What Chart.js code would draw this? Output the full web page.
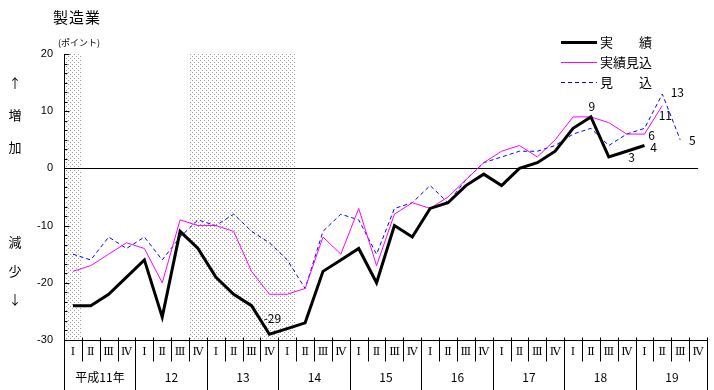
<!DOCTYPE html>
<html>
<head>
<meta charset="utf-8">
<script src="https://cdn.jsdelivr.net/npm/chart.js@4"></script>
<style>
html, body { margin: 0; padding: 0; background: #fff; }
#wrap { position: relative; width: 714px; height: 390px; }
</style>
</head>
<body>
<div id="wrap"><canvas id="chart" width="714" height="390"></canvas></div>
<script>
// 平成11年 I 〜 19年 IV
const years = ['平成11年', '12', '13', '14', '15', '16', '17', '18', '19'];
const quarters = ['Ⅰ', 'Ⅱ', 'Ⅲ', 'Ⅳ'];

const actual = [-24, -24, -22, -19, -16, -26, -11, -14, -19, -22, -24, -29,
                -28, -27, -18, -16, -14, -20, -10, -12, -7, -6, -3, -1,
                -3, 0, 1, 3, 7, 9, 2, 3, 4, null, null, null];
const estimate = [-18, -17, -15, -13, -14, -20, -9, -10, -10, -11, -18, -22,
                  -22, -21, -12, -15, -7, -17, -8, -6, -7, -5, -2, 1,
                  3, 4, 2, 5, 9, 9, 8, 6, 6, 11, null, null];
const forecast = [-15, -16, -12, -14, -12, -16, -12, -9, -10, -8, -11, -13,
                  -16, -21, -11, -8, -9, -15, -7, -6, -3, -6, -2, 1,
                  2, 3, 3, 4, 6, 7, 4, 6, 7, 13, 5, null];

const seriesNames = ['実　　績', '実績見込', '見　　込'];
const yMin = -30, yMax = 20;

// shaded quarters (first and last category index)
const shaded = [[0, 0], [7, 12]];

// value labels: dataset, index, text
const valueLabels = [
    { ds: 0, i: 11, text: '-29', dx: 3, dy: -16 },
    { ds: 0, i: 29, text: '9', dx: 1, dy: -10 },
    { ds: 0, i: 31, text: '3', dx: 5, dy: 6 },
    { ds: 0, i: 32, text: '4', dx: 9, dy: 2 },
    { ds: 1, i: 32, text: '6', dx: 7, dy: 1 },
    { ds: 1, i: 33, text: '11', dx: 3, dy: 10 },
    { ds: 2, i: 33, text: '13', dx: 15, dy: -2 },
    { ds: 2, i: 34, text: '5', dx: 12, dy: 1 }
];

const labels = [];
years.forEach((y, yi) => quarters.forEach(q => labels.push(yi + '-' + q)));

const JP = '"Noto Sans CJK JP", sans-serif';

function dotPattern(ctx) {
    const c = document.createElement('canvas');
    c.width = 4; c.height = 4;
    const p = c.getContext('2d');
    p.fillStyle = '#9c9c9c';
    p.fillRect(0, 0, 1, 1);
    p.fillRect(2, 2, 1, 1);
    return ctx.createPattern(c, 'repeat');
}

const bgPlugin = {
    id: 'bg',
    beforeDatasetsDraw(chart) {
        const { ctx, scales: { x, y } } = chart;
        const half = (x.getPixelForValue(1) - x.getPixelForValue(0)) / 2;
        ctx.save();
        ctx.fillStyle = dotPattern(ctx);
        shaded.forEach(([a, b]) => {
            const x0 = Math.round(x.getPixelForValue(a) - half) + 1;
            const x1 = Math.round(x.getPixelForValue(b) + half);
            const y0 = Math.round(y.getPixelForValue(yMax));
            const y1 = Math.round(y.getPixelForValue(yMin));
            ctx.fillRect(x0, y0, x1 - x0, y1 - y0);
        });
        // zero line
        const zy = Math.round(y.getPixelForValue(0)) + 0.5;
        ctx.strokeStyle = '#000';
        ctx.lineWidth = 1;
        ctx.beginPath();
        ctx.moveTo(x.left, zy);
        ctx.lineTo(x.getPixelForValue(labels.length - 1), zy);
        ctx.stroke();
        ctx.restore();
    }
};

const decoPlugin = {
    id: 'deco',
    afterDraw(chart) {
        const { ctx, scales: { x, y } } = chart;
        const n = labels.length;
        const step = x.getPixelForValue(1) - x.getPixelForValue(0);
        const bx = i => Math.round(x.getPixelForValue(0) - step / 2 + i * step) + 0.5;
        const base = Math.round(y.getPixelForValue(yMin)) + 0.5;
        const axisX = Math.round(y.right) + 0.5;

        ctx.save();
        ctx.strokeStyle = '#000';
        ctx.lineWidth = 1;

        // left axis ticks (major 10, minor 10/6)
        ctx.beginPath();
        for (let k = 0; k <= 30; k++) {
            const v = yMin + k * 10 / 6;
            const py = Math.round(y.getPixelForValue(v)) + 0.5;
            const len = k % 6 === 0 ? 5 : 3;
            ctx.moveTo(axisX, py);
            ctx.lineTo(axisX + len, py);
        }
        ctx.stroke();

        // x axis line and table
        ctx.beginPath();
        ctx.moveTo(axisX, base);
        ctx.lineTo(bx(n), base);
        for (let i = 0; i <= n; i++) {
            const px = bx(i);
            ctx.moveTo(px, base - 3);
            ctx.lineTo(px, i % 4 === 0 ? 390 : base + 21);
        }
        ctx.stroke();

        ctx.fillStyle = '#000';
        ctx.textAlign = 'center';
        ctx.textBaseline = 'middle';
        ctx.font = '11px "DejaVu Serif", serif';
        for (let i = 0; i < n; i++) {
            ctx.fillText(quarters[i % 4], x.getPixelForValue(i), base + 12);
        }
        ctx.font = '12px ' + JP;
        years.forEach((yr, yi) => {
            const cx = (bx(yi * 4) + bx(yi * 4 + 4)) / 2;
            ctx.fillText(yr, cx, base + 37);
        });

        // value labels
        ctx.font = '12px ' + JP;
        valueLabels.forEach(l => {
            const pt = chart.getDatasetMeta(l.ds).data[l.i];
            ctx.fillText(l.text, pt.x + l.dx, pt.y + l.dy);
        });

        // legend
        chart.data.datasets.forEach((ds, k) => {
            const ly = 42 + k * 20 + 0.5;
            ctx.save();
            ctx.strokeStyle = ds.borderColor;
            ctx.lineWidth = ds.borderWidth;
            ctx.setLineDash(ds.borderDash || []);
            ctx.beginPath();
            ctx.moveTo(561, ly);
            ctx.lineTo(597, ly);
            ctx.stroke();
            ctx.restore();
            ctx.textAlign = 'left';
            ctx.font = '13px ' + JP;
            ctx.fillText(ds.label, 600, ly);
        });

        // title and side labels
        ctx.textAlign = 'left';
        ctx.font = '15px ' + JP;
        ctx.letterSpacing = '1px';
        ctx.fillText('製造業', 53, 17);
        ctx.letterSpacing = '0px';
        ctx.font = '9px ' + JP;
        ctx.fillText('(ポイント)', 58, 43);
        ctx.textAlign = 'center';
        ctx.font = '13px ' + JP;
        [['↑', 83], ['増', 115], ['加', 147], ['減', 242], ['少', 271], ['↓', 299]]
            .forEach(([t, ty]) => ctx.fillText(t, 15, ty));
        ctx.restore();
    }
};

new Chart(document.getElementById('chart'), {
    type: 'line',
    data: {
        labels: labels,
        datasets: [
            {
                label: seriesNames[0],
                data: actual,
                borderColor: '#000000',
                borderWidth: 3,
                pointRadius: 0,
                tension: 0
            },
            {
                label: seriesNames[1],
                data: estimate,
                borderColor: '#ff00ff',
                borderWidth: 1,
                pointRadius: 0,
                tension: 0
            },
            {
                label: seriesNames[2],
                data: forecast,
                borderColor: '#0000ff',
                borderWidth: 1,
                borderDash: [4, 3],
                pointRadius: 0,
                tension: 0
            }
        ]
    },
    options: {
        responsive: false,
        devicePixelRatio: 1,
        animation: false,
        layout: { padding: { left: 0, top: 54, right: 7, bottom: 50 } },
        plugins: {
            legend: { display: false },
            tooltip: { enabled: false }
        },
        scales: {
            x: {
                type: 'category',
                offset: true,
                display: false
            },
            y: {
                min: yMin,
                max: yMax,
                afterFit: scale => { scale.width = 64; },
                ticks: {
                    stepSize: 10,
                    color: '#000',
                    padding: 11,
                    font: { family: '"Liberation Sans", sans-serif', size: 11 }
                },
                grid: { display: false, drawTicks: false },
                border: { display: true, color: '#000', width: 1 }
            }
        }
    },
    plugins: [bgPlugin, decoPlugin]
});
</script>
</body>
</html>
